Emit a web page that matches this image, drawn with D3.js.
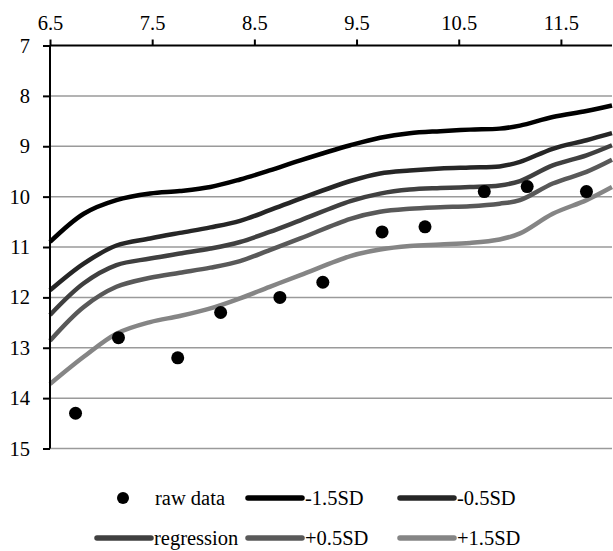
<!DOCTYPE html>
<html><head><meta charset="utf-8">
<script src="https://cdn.jsdelivr.net/npm/d3@7"></script>
<style>
body{margin:0;background:#fff;}
</style></head>
<body><svg id="c" width="613" height="551"></svg>
<script>
// ---- data ----
const rawX = [6.75, 7.17, 7.75, 8.17, 8.75, 9.17, 9.75, 10.17, 10.75, 11.17, 11.75];
const rawY = [14.3, 12.8, 13.2, 12.3, 12.0, 11.7, 10.7, 10.6, 9.9, 9.8, 9.9];
const curveX = [6.5, 6.83, 7.15, 7.48, 7.77, 8.07, 8.36, 8.65, 8.95, 9.44, 9.73, 10.02, 10.32, 10.61, 10.9, 11.1, 11.42, 11.75, 12.0];
const minus15 = [10.9, 10.34, 10.07, 9.94, 9.89, 9.81, 9.66, 9.48, 9.28, 8.98, 8.83, 8.74, 8.70, 8.67, 8.65, 8.59, 8.42, 8.30, 8.19];
const minus05 = [11.86, 11.33, 10.97, 10.83, 10.72, 10.61, 10.48, 10.27, 10.04, 9.69, 9.54, 9.48, 9.44, 9.42, 9.40, 9.31, 9.05, 8.88, 8.74];
const regression = [12.35, 11.72, 11.36, 11.23, 11.13, 11.03, 10.90, 10.70, 10.47, 10.09, 9.94, 9.86, 9.83, 9.81, 9.78, 9.69, 9.38, 9.18, 8.98];
const plus05 = [12.86, 12.19, 11.79, 11.61, 11.51, 11.41, 11.28, 11.06, 10.83, 10.44, 10.30, 10.24, 10.21, 10.19, 10.14, 10.07, 9.74, 9.51, 9.27];
const plus15 = [13.72, 13.18, 12.72, 12.49, 12.37, 12.22, 12.02, 11.79, 11.56, 11.18, 11.05, 10.98, 10.95, 10.92, 10.85, 10.73, 10.34, 10.07, 9.81];
const xTicks = [6.5, 7.5, 8.5, 9.5, 10.5, 11.5];
const yTicks = [7, 8, 9, 10, 11, 12, 13, 14, 15];
const seriesNames = ["-1.5SD", "-0.5SD", "regression", "+0.5SD", "+1.5SD"];
const seriesData = [minus15, minus05, regression, plus05, plus15];
const seriesColors = ["#000000", "#262626", "#404040", "#595959", "#858585"];

// ---- chart ----
const FF = "'Liberation Serif', 'Times New Roman', 'DejaVu Serif', serif";
const svg = d3.select("#c");
const x = d3.scaleLinear().domain([6.5, 12]).range([50, 612]);
const y = d3.scaleLinear().domain([7, 15]).range([45.5, 448.5]);
const font = 20.5;

// gridlines
svg.append("g").selectAll("line").data(yTicks.filter(d => d !== 7)).join("line")
  .attr("x1", x(6.5)).attr("x2", x(12)).attr("y1", d => y(d)).attr("y2", d => y(d))
  .attr("stroke", "#9a9a9a").attr("stroke-width", 1.5);

// curves
const line = d3.line().x(d => x(d[0])).y(d => y(d[1])).curve(d3.curveCatmullRom.alpha(0.5));
seriesData.forEach((vals, i) => {
  svg.append("path").datum(curveX.map((cx, j) => [cx, vals[j]]))
    .attr("d", line).attr("fill", "none")
    .attr("stroke", seriesColors[i]).attr("stroke-width", 4.5);
});

// points
svg.append("g").selectAll("circle").data(rawX.map((d, i) => [d, rawY[i]])).join("circle")
  .attr("cx", d => x(d[0])).attr("cy", d => y(d[1])).attr("r", 6.5).attr("fill", "#000");

// axes
const xAxis = svg.append("g").attr("transform", `translate(0,${y(7)})`)
  .call(d3.axisTop(x).tickValues(xTicks).tickFormat(d3.format(".1f")).tickSize(6).tickPadding(10));
const yAxis = svg.append("g").attr("transform", `translate(${x(6.5)},0)`)
  .call(d3.axisLeft(y).tickValues(yTicks).tickFormat(d3.format("d")).tickSize(7).tickPadding(13));
[xAxis, yAxis].forEach(g => {
  g.attr("font-family", FF).attr("font-size", font);
  g.select(".domain").attr("stroke", "#000").attr("stroke-width", 2);
  g.selectAll(".tick line").attr("stroke", "#000").attr("stroke-width", 2);
  g.selectAll("text").attr("fill", "#000").attr("font-family", FF).attr("font-size", font);
});
xAxis.select(".domain").attr("d", `M${x(6.5)},0H${x(12)}`);
yAxis.select(".domain").attr("d", `M0,${y(7)}V${y(15)}`);

// legend
const leg = svg.append("g").attr("font-size", font).attr("font-family", FF);
const row1 = 498, row2 = 538;
leg.append("circle").attr("cx", 123).attr("cy", row1).attr("r", 6).attr("fill", "#000");
leg.append("text").attr("x", 155).attr("y", row1).attr("dy", "0.35em").text("raw data");
const legPos = [[248, row1], [400, row1], [97, row2], [248, row2], [400, row2]];
seriesNames.forEach((n, i) => {
  const [lx, ly] = legPos[i];
  leg.append("line").attr("x1", lx).attr("x2", lx + 54).attr("y1", ly).attr("y2", ly)
    .attr("stroke", seriesColors[i]).attr("stroke-width", 5.5).attr("stroke-linecap", "round");
  leg.append("text").attr("x", lx + 57).attr("y", ly).attr("dy", "0.35em").text(n);
});
</script></body></html>
